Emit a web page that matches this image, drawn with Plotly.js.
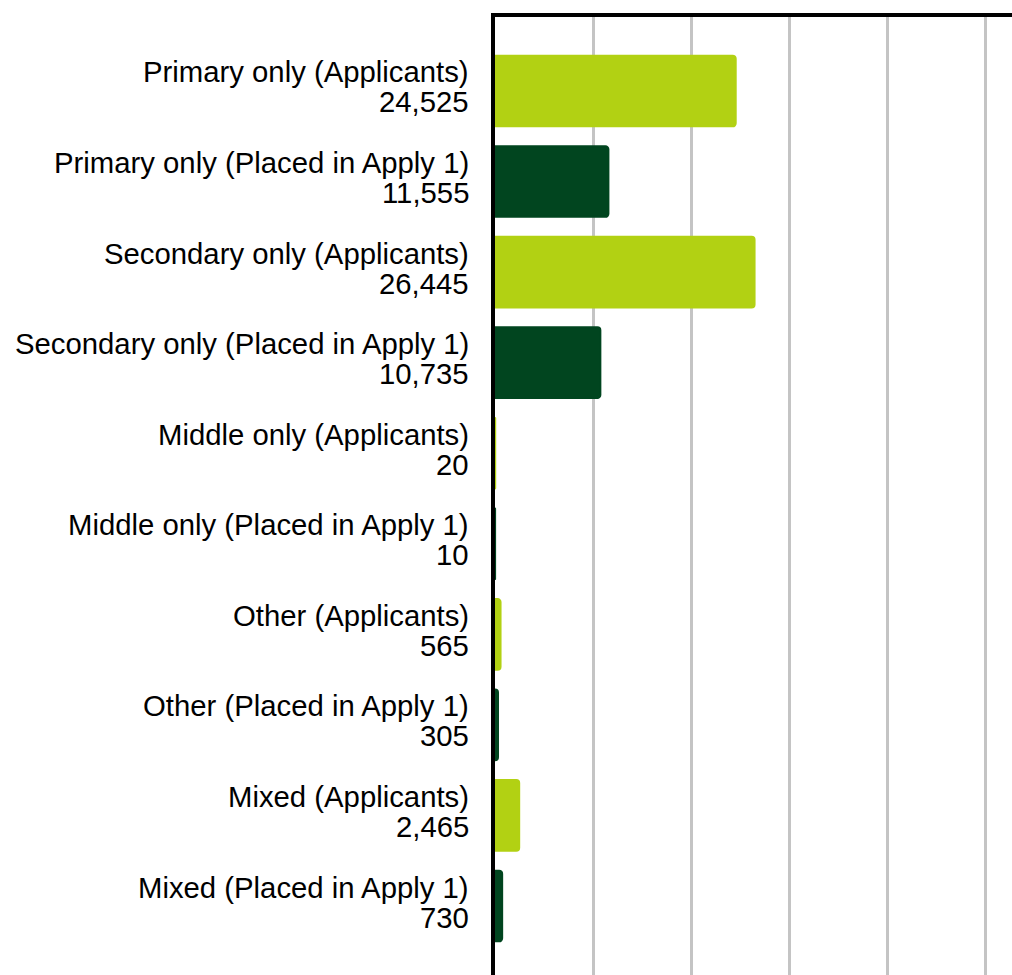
<!DOCTYPE html>
<html>
<head>
<meta charset="utf-8">
<script src="https://cdn.plot.ly/plotly-3.0.1.min.js"></script>
<style>
html,body{margin:0;padding:0;background:#fff;overflow:hidden;}
#chart{width:1012px;height:975px;}
</style>
</head>
<body>
<div id="chart"></div>
<script>
var categories = [
  "Primary only (Applicants)",
  "Primary only (Placed in Apply 1)",
  "Secondary only (Applicants)",
  "Secondary only (Placed in Apply 1)",
  "Middle only (Applicants)",
  "Middle only (Placed in Apply 1)",
  "Other (Applicants)",
  "Other (Placed in Apply 1)",
  "Mixed (Applicants)",
  "Mixed (Placed in Apply 1)"
];
var values = [24525, 11555, 26445, 10735, 20, 10, 565, 305, 2465, 730];
var groups = ["Applicants", "Placed", "Applicants", "Placed", "Applicants", "Placed", "Applicants", "Placed", "Applicants", "Placed"];
var groupColors = {"Applicants": "#b2d113", "Placed": "#01451f"};

var idx = categories.map(function(_, i){ return i; });
var barColors = groups.map(function(g){ return groupColors[g]; });

var trace = {
  type: "bar",
  orientation: "h",
  y: idx,
  x: values,
  marker: {color: barColors, line: {color: barColors, width: 2}},
  hoverinfo: "none"
};

var fontSpec = {family: "Liberation Sans, Arial, sans-serif", size: 29.3, color: "#000"};
var annotations = [];
categories.forEach(function(c, i){
  annotations.push({
    xref: "paper", yref: "y", x: 0, y: i,
    xanchor: "right", yanchor: "middle",
    xshift: -24, yshift: 19,
    text: c, showarrow: false, font: fontSpec
  });
  annotations.push({
    xref: "paper", yref: "y", x: 0, y: i,
    xanchor: "right", yanchor: "middle",
    xshift: -24, yshift: -11,
    text: values[i].toLocaleString("en-US"), showarrow: false, font: fontSpec
  });
});

var layout = {
  width: 1012, height: 975,
  margin: {l: 495, r: 0, t: 17, b: 0, pad: 0},
  paper_bgcolor: "#fff", plot_bgcolor: "#fff",
  showlegend: false,
  bargap: 0.22,
  barcornerradius: 3,
  xaxis: {
    side: "top", range: [0, 52675], dtick: 10000, tick0: 0,
    showline: true, linecolor: "#000", linewidth: 4,
    showgrid: true, gridcolor: "#c4c4c4", gridwidth: 3,
    zeroline: false, showticklabels: false, ticks: ""
  },
  yaxis: {
    range: [9.762, -0.817],
    showline: true, linecolor: "#000", linewidth: 4,
    showgrid: false, zeroline: false, showticklabels: false, ticks: ""
  },
  annotations: annotations,
  font: fontSpec
};

Plotly.newPlot("chart", [trace], layout, {displayModeBar: false, staticPlot: true});
</script>
</body>
</html>
